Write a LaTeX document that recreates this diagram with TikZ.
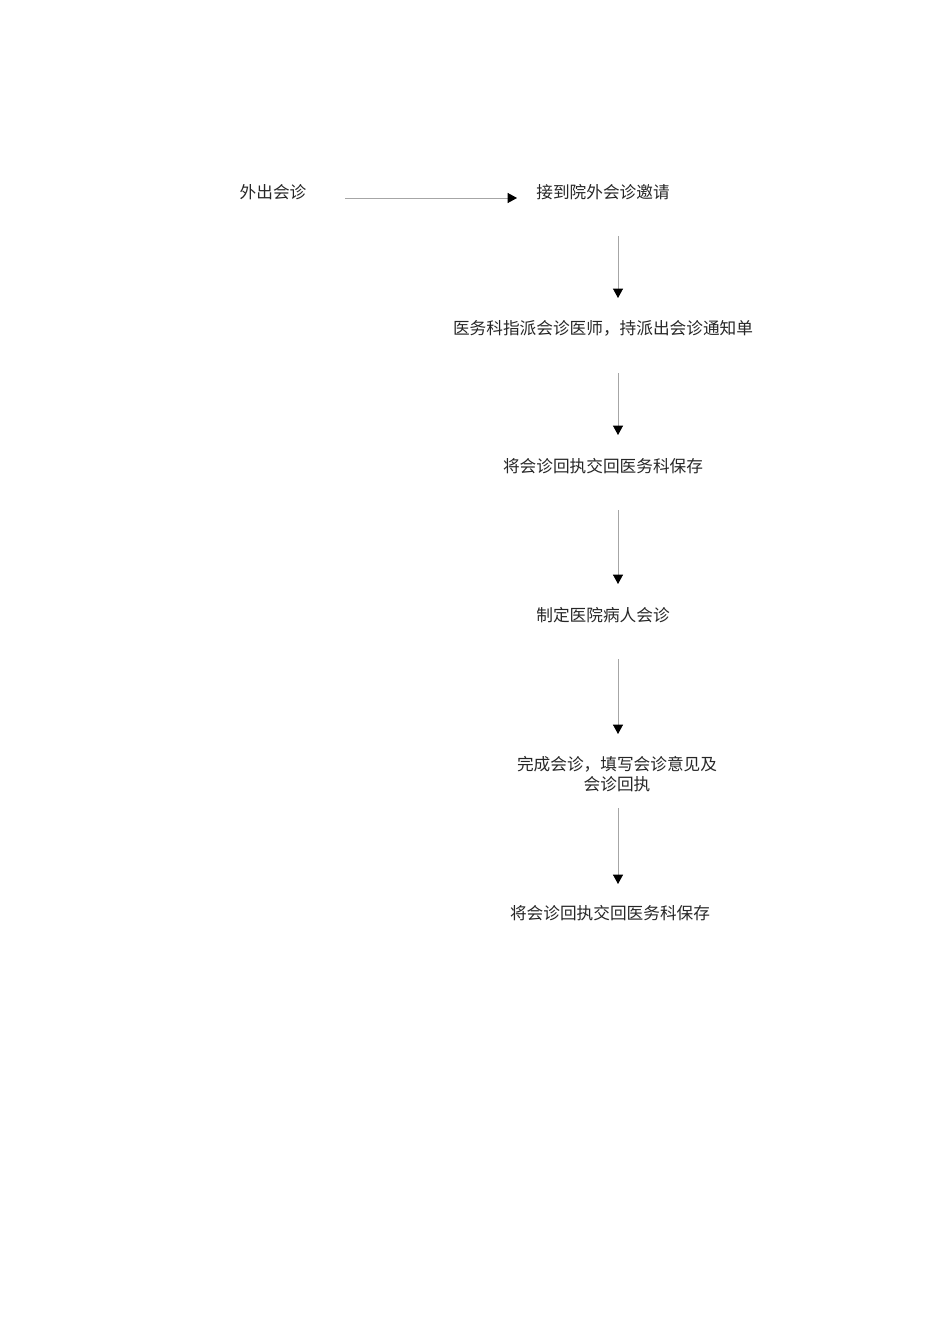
\documentclass[tikz,border=0pt]{standalone}
\usepackage{fontspec}
\setmainfont{Noto Sans CJK SC}
\usetikzlibrary{arrows.meta}
\begin{document}
\begin{tikzpicture}[x=0.75pt,y=-0.75pt,
  lbl/.style={inner sep=0pt,font=\fontsize{12.5pt}{15pt}\selectfont,align=center,text=black!85},
  flow/.style={draw=black!35,line width=0.6pt,-{Triangle[length=7pt,width=7.5pt,color=black]}}]
\useasboundingbox (0,0) rectangle (950,1344);
\node[lbl] (a) at (273,192) {外出会诊};
\node[lbl] (b) at (603,192) {接到院外会诊邀请};
\node[lbl] (c) at (603,328) {医务科指派会诊医师，持派出会诊通知单};
\node[lbl] (d) at (603,466) {将会诊回执交回医务科保存};
\node[lbl] (e) at (603,615) {制定医院病人会诊};
\node[lbl] (f) at (617,774) {完成会诊，填写会诊意见及\\会诊回执};
\node[lbl] (g) at (610,913) {将会诊回执交回医务科保存};
\coordinate (a1) at (345,198); \coordinate (b0) at (517,198);
\coordinate (b1) at (618,236); \coordinate (c0) at (618,298);
\coordinate (c1) at (618,373); \coordinate (d0) at (618,435);
\coordinate (d1) at (618,510); \coordinate (e0) at (618,584);
\coordinate (e1) at (618,659); \coordinate (f0) at (618,734);
\coordinate (f1) at (618,808); \coordinate (g0) at (618,884);
\draw[flow] (a1) -- (b0);
\draw[flow] (b1) -- (c0);
\draw[flow] (c1) -- (d0);
\draw[flow] (d1) -- (e0);
\draw[flow] (e1) -- (f0);
\draw[flow] (f1) -- (g0);
\end{tikzpicture}
\end{document}
